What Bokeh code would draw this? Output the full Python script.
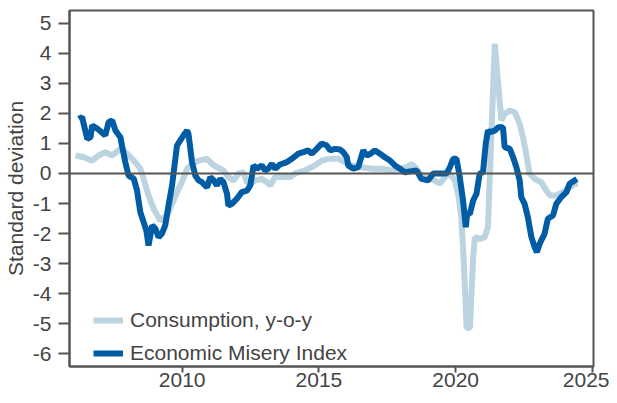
from bokeh.plotting import figure
from bokeh.models import Range1d, FixedTicker, Span, Legend, LegendItem, PrintfTickFormatter
from bokeh.embed import file_html
from bokeh.resources import INLINE

# ---- data ----
cons_year = [2006.10, 2006.40, 2006.71, 2006.95, 2007.19, 2007.44, 2007.74, 2007.99,
             2008.23, 2008.47, 2008.59, 2008.77, 2008.96, 2009.20, 2009.45, 2009.63,
             2009.87, 2009.99, 2010.18, 2010.36, 2010.60, 2010.91, 2011.09, 2011.27,
             2011.51, 2011.69, 2011.88, 2012.06, 2012.24, 2012.37, 2012.49, 2012.67,
             2012.91, 2013.10, 2013.22, 2013.40, 2013.64, 2013.95, 2014.13, 2014.49,
             2014.86, 2015.10, 2015.34, 2015.71, 2015.95, 2016.20, 2016.56, 2016.93,
             2017.29, 2017.66, 2017.96, 2018.21, 2018.39, 2018.57, 2018.75, 2019.12,
             2019.42, 2019.60, 2019.79, 2019.97, 2020.09, 2020.21, 2020.30, 2020.40,
             2020.52, 2020.64, 2020.70, 2020.88, 2021.06, 2021.18, 2021.43, 2021.67,
             2021.79, 2021.98, 2022.16, 2022.34, 2022.46, 2022.58, 2022.70, 2022.89,
             2023.13, 2023.32, 2023.44, 2023.68, 2023.92, 2024.17, 2024.35, 2024.47]
cons_value = [0.60, 0.54, 0.43, 0.60, 0.71, 0.60, 0.82, 0.66,
              0.43, 0.16, -0.18, -0.73, -1.18, -1.57, -1.40, -1.01,
              -0.51, -0.29, 0.16, 0.32, 0.43, 0.49, 0.32, 0.21,
              0.10, -0.12, -0.23, 0.00, 0.04, -0.29, -0.34, -0.23,
              -0.18, -0.29, -0.40, -0.12, -0.12, -0.12, 0.00, 0.10,
              0.27, 0.43, 0.49, 0.49, 0.38, 0.27, 0.21, 0.16,
              0.16, 0.10, 0.16, 0.21, 0.32, 0.16, -0.07, -0.18,
              -0.34, -0.12, 0.00, -0.23, -0.68, -1.46, -3.01, -5.15,
              -5.15, -2.79, -2.12, -2.18, -2.12, -1.79, 4.32, 1.77,
              1.99, 2.10, 2.04, 1.66, 1.21, 0.66, 0.00, -0.18,
              -0.29, -0.57, -0.73, -0.73, -0.62, -0.46, -0.34, -0.34]

misery_year = [2006.22, 2006.34, 2006.53, 2006.65, 2006.71, 2006.89, 2007.19, 2007.31,
               2007.44, 2007.56, 2007.74, 2007.80, 2007.92, 2008.04, 2008.23, 2008.35,
               2008.47, 2008.59, 2008.69, 2008.77, 2008.90, 2009.02, 2009.14, 2009.26,
               2009.38, 2009.50, 2009.63, 2009.75, 2009.81, 2009.93, 2010.05, 2010.18,
               2010.23, 2010.36, 2010.48, 2010.60, 2010.72, 2010.91, 2011.03, 2011.15,
               2011.27, 2011.39, 2011.51, 2011.64, 2011.69, 2011.82, 2012.00, 2012.18,
               2012.37, 2012.49, 2012.61, 2012.73, 2012.91, 2013.03, 2013.15, 2013.28,
               2013.40, 2013.58, 2013.83, 2014.01, 2014.25, 2014.43, 2014.61, 2014.74,
               2014.92, 2015.10, 2015.29, 2015.41, 2015.59, 2015.77, 2015.89, 2016.02,
               2016.07, 2016.26, 2016.44, 2016.62, 2016.75, 2016.87, 2017.05, 2017.23,
               2017.41, 2017.60, 2017.78, 2017.96, 2018.14, 2018.33, 2018.57, 2018.75,
               2018.99, 2019.18, 2019.42, 2019.67, 2019.79, 2019.91, 2020.03, 2020.15,
               2020.27, 2020.37, 2020.42, 2020.52, 2020.64, 2020.76, 2020.88, 2021.00,
               2021.10, 2021.18, 2021.25, 2021.43, 2021.55, 2021.73, 2021.79, 2021.98,
               2022.10, 2022.22, 2022.34, 2022.40, 2022.52, 2022.64, 2022.77, 2022.89,
               2022.97, 2023.07, 2023.25, 2023.37, 2023.56, 2023.68, 2023.86, 2024.05,
               2024.17, 2024.35, 2024.43]
misery_value = [1.82, 1.88, 1.15, 1.21, 1.60, 1.50, 1.27, 1.71,
                1.77, 1.43, 1.21, 0.93, 0.38, -0.07, -0.17, -0.57,
                -1.29, -1.62, -1.90, -2.40, -1.73, -1.84, -2.12, -2.00,
                -1.73, -1.07, -0.40, 0.49, 0.93, 1.10, 1.27, 1.43,
                1.32, 0.38, -0.07, -0.23, -0.29, -0.46, -0.12, -0.23,
                -0.40, -0.18, -0.29, -0.68, -1.07, -1.01, -0.84, -0.62,
                -0.57, -0.40, 0.27, 0.16, 0.27, 0.10, 0.16, 0.32,
                0.16, 0.30, 0.38, 0.49, 0.66, 0.71, 0.77, 0.66,
                0.82, 1.00, 0.93, 0.77, 0.82, 0.80, 0.71, 0.54,
                0.27, 0.16, 0.21, 0.77, 0.60, 0.65, 0.77, 0.66,
                0.54, 0.43, 0.27, 0.16, 0.04, 0.07, 0.10, -0.18,
                -0.23, 0.00, 0.00, 0.00, 0.21, 0.49, 0.49, -0.12,
                -0.90, -1.79, -1.34, -1.34, -0.90, -0.68, 0.00, 0.04,
                0.99, 1.43, 1.38, 1.43, 1.54, 1.54, 0.88, 0.82,
                0.54, 0.21, -0.23, -0.79, -1.01, -1.46, -2.12, -2.46,
                -2.62, -2.34, -2.01, -1.51, -1.40, -1.01, -0.79, -0.62,
                -0.34, -0.23, -0.18]

x_ticks = [2010, 2015, 2020, 2025]
y_ticks = [-6, -5, -4, -3, -2, -1, 0, 1, 2, 3, 4, 5]

series_labels = ["Consumption, y-o-y", "Economic Misery Index"]

# ---- styling ----
FONT = "Liberation Sans"
TEXT = "#444444"
AXIS = "#555555"
LIGHT = "#BBD4E0"
DARK = "#005CA4"

p = figure(width=609, height=395, output_backend="svg", toolbar_location=None,
           x_range=Range1d(2005.88, 2025.04), y_range=Range1d(-6.43, 5.43),
           min_border_left=69, min_border_right=16, min_border_top=10,
           min_border_bottom=29)

p.xgrid.visible = False
p.ygrid.visible = False
p.outline_line_color = AXIS
p.outline_line_width = 2
p.background_fill_color = "white"
p.border_fill_color = "white"

for ax in (p.xaxis[0], p.yaxis[0]):
    ax.axis_line_color = AXIS
    ax.axis_line_width = 2
    ax.major_tick_line_color = AXIS
    ax.major_tick_line_width = 2
    ax.major_tick_in = 0
    ax.minor_tick_line_color = None
    ax.major_label_text_color = TEXT
    ax.major_label_text_font = FONT
    ax.axis_label_text_color = TEXT
    ax.axis_label_text_font = FONT
    ax.axis_label_text_font_style = "normal"

p.xaxis.ticker = FixedTicker(ticks=x_ticks)
p.yaxis.ticker = FixedTicker(ticks=y_ticks)
p.xaxis.formatter = PrintfTickFormatter(format="%d")
p.yaxis.formatter = PrintfTickFormatter(format="%d")
p.xaxis.major_tick_out = 6
p.xaxis.major_label_standoff = 0
p.xaxis.major_label_text_font_size = "21px"
p.yaxis.major_tick_out = 11
p.yaxis.major_label_standoff = 7
p.yaxis.major_label_text_font_size = "21px"
p.yaxis.axis_label = "Standard deviation"
p.yaxis.axis_label_text_font_size = "21px"
p.yaxis.axis_label_standoff = 3

zero = Span(location=0, dimension="width", line_color=AXIS, line_width=2)
p.add_layout(zero)

r1 = p.line(cons_year, cons_value, line_color=LIGHT, line_width=6, line_join="bevel")
r2 = p.line(misery_year, misery_value, line_color=DARK, line_width=6, line_join="bevel")

legend = Legend(items=[LegendItem(label=series_labels[0], renderers=[r1]),
                       LegendItem(label=series_labels[1], renderers=[r2])],
                location=(24, 1), orientation="vertical",
                border_line_color=None, background_fill_alpha=0,
                padding=0, margin=0, spacing=9,
                glyph_width=30, glyph_height=24, label_height=24,
                label_standoff=7, label_text_font=FONT,
                label_text_font_size="21px", label_text_color=TEXT)
p.add_layout(legend)

open("out.html", "w").write(file_html(p, INLINE))
